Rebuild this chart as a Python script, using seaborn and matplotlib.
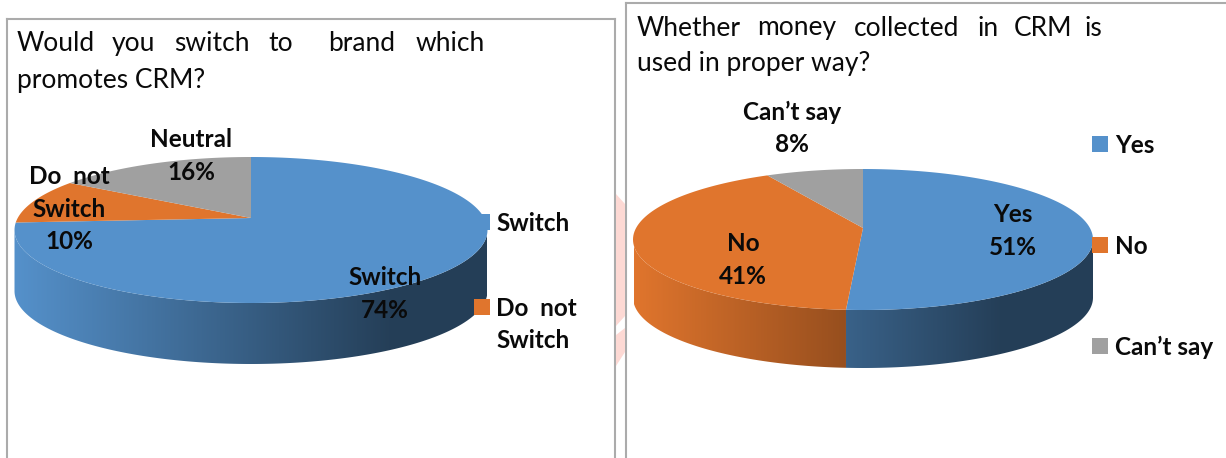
import numpy as np
import matplotlib
matplotlib.use("Agg")
import matplotlib.pyplot as plt
from matplotlib.patches import Polygon
from matplotlib.path import Path
from matplotlib.transforms import Transform, ScaledTranslation
import seaborn as sns

W, H = 1226, 458

left_labels = ["Switch", "Do  not\nSwitch", "Neutral"]
left_values = [74, 10, 16]
left_legend = ["Switch", "Do  not\nSwitch"]

right_labels = ["Yes", "No", "Can\u2019t say"]
right_values = [51, 41, 8]

left_title_words = ["Would", "you", "switch", "to", "brand", "which"]
right_title_words = ["Whether", "money", "collected", "in", "CRM", "is"]

palette = sns.color_palette(["#5591CB", "#E0752D", "#A0A0A0"])

sns.set_theme(style="white")
plt.rcParams["font.family"] = ["Lato", "DejaVu Sans"]
TITLE_SIZE = 19
LABEL_SIZE = 17.5
LINE_GAP = 1.48
FRAME = "#ABABAB"
INK = "#0A0A0A"


class TiltedDisk(Transform):
    """Perspective view of the unit disk, expressed in canvas pixels."""
    input_dims = output_dims = 2
    has_inverse = False
    is_separable = False

    def __init__(self, cx, cy, half_width, back, front):
        super().__init__()
        self.cx, self.cy = cx, cy
        self.k = (front - back) / (front + back)
        self.b = back * (1 + self.k)
        self.a = half_width * np.sqrt(1 - self.k ** 2)

    def transform_non_affine(self, xy):
        xy = np.asarray(xy, float)
        s = 1 + self.k * xy[:, 1]
        return np.column_stack((self.cx + self.a * xy[:, 0] / s,
                                self.cy - self.b * xy[:, 1] / s))

    def transform_path_non_affine(self, path):
        # Flatten the wedge's curves first so that the rim stays smooth.
        points = []
        for curve, code in path.iter_bezier():
            if code == Path.MOVETO or code == Path.CLOSEPOLY:
                points.append(curve.control_points[-1:])
            else:
                points.append(curve(np.linspace(0, 1, 24)[1:]))
        return Path(self.transform_non_affine(np.vstack(points)))


def draw_pie(ax, values, geometry, depth, x_span):
    disk = TiltedDisk(*geometry)
    wedges, _ = ax.pie(values, startangle=90, counterclock=False,
                       colors=palette, radius=1,
                       wedgeprops=dict(linewidth=0, zorder=3))
    for wedge in wedges:
        wedge.set_transform(disk + ax.transData)

    # Side wall of the disk: each slice's front rim, shaded left to right.
    edges = np.cumsum([0] + list(values)) / sum(values)
    x0, x1 = x_span
    ramp = np.clip(np.linspace(0, 1, 400) / 0.80, 0, 1)
    shade = 1 - 0.57 * ramp
    for i, colour in enumerate(palette):
        t = 90 - 360 * np.linspace(edges[i], edges[i + 1], 300)
        t = t[np.sin(np.radians(t)) <= -disk.k]
        if t.size < 2:
            continue
        rim = disk.transform_non_affine(np.column_stack((np.cos(np.radians(t)), np.sin(np.radians(t)))))
        lower = rim + [0, depth]
        outline = Polygon(np.vstack((rim, lower[::-1])), closed=True,
                          transform=ax.transData, facecolor="none", edgecolor="none")
        ax.add_patch(outline)
        image = np.ones((1, 400, 3)) * np.array(colour)
        image = image * shade[None, :, None]
        art = ax.imshow(image, extent=(x0, x1, H, 0), aspect="auto", zorder=2,
                        interpolation="bilinear")
        art.set_clip_path(outline)


def dress_axes(ax, xlim, ylim, spines):
    ax.set_aspect("auto")
    ax.set_xlim(*xlim)
    ax.set_ylim(*ylim)
    ax.set_xticks([])
    ax.set_yticks([])
    ax.set_frame_on(True)
    for side, spine in ax.spines.items():
        spine.set_visible(side in spines)
        spine.set_color(FRAME)
        spine.set_linewidth(1.5)


def slice_labels(ax, spots, names, values):
    for (x, y), name, value in zip(spots, names, values):
        ax.text(x, y, f"{name}\n{value}%", ha="center", va="center", fontsize=LABEL_SIZE,
                fontweight="bold", linespacing=LINE_GAP, color=INK, zorder=5)


def legend_keys(ax, names, key_x, text_x, key_ys):
    lift = ScaledTranslation(0, 10 / 100, ax.figure.dpi_scale_trans)
    for colour, name, y in zip(palette, names, key_ys):
        ax.scatter([key_x], [y], marker="s", s=117, color=colour, linewidths=0, zorder=4)
        ax.text(text_x, y, name, va="top", fontsize=LABEL_SIZE, fontweight="bold",
                linespacing=LINE_GAP, color=INK, zorder=5,
                transform=ax.transData + lift)


def panel(fig, x0, x1, y0):
    return fig.add_axes([x0 / W, 0, (x1 - x0) / W, (H - y0) / H])


fig = plt.figure(figsize=(W / 100, H / 100), dpi=100, facecolor="white")

# Faint watermark showing through between the two frames.
for band in ([(616, 194), (625, 204), (625, 316), (616, 326)],
             [(616, 335), (625, 328), (625, 352), (616, 366)]):
    fig.add_artist(Polygon([(x / W, 1 - y / H) for x, y in band], closed=True,
                           transform=fig.transFigure, facecolor="#FDD9D4", edgecolor="none"))

# Left chart
ax1 = panel(fig, 7, 615, 19)
draw_pie(ax1, left_values, (251, 218, 236.5, 61, 85), 61, (14, 487))
dress_axes(ax1, (7, 615), (H, 19), ("left", "top", "right"))
for x, word in zip([17, 112, 174, 268, 328, 416], left_title_words):
    ax1.text(x, 43, word, fontsize=TITLE_SIZE, va="center", color=INK)
ax1.text(17, 80, "promotes CRM?", fontsize=TITLE_SIZE, va="center", color=INK)
slice_labels(ax1, [(385, 294), (69, 209), (191, 156)], left_labels, left_values)
legend_keys(ax1, left_legend, 482, 496, [222, 307])

# Right chart
ax2 = panel(fig, 626, 1226, 3)
draw_pie(ax2, right_values, (863, 228, 230, 59, 82), 58, (634, 1094))
dress_axes(ax2, (626, 1226), (H, 3), ("left", "top"))
for x, word in zip([637, 757, 854, 978, 1014, 1085], right_title_words):
    ax2.text(x, 28, word, fontsize=TITLE_SIZE, va="center", color=INK)
ax2.text(637, 63, "used in proper way?", fontsize=TITLE_SIZE, va="center", color=INK)
slice_labels(ax2, [(1013, 231), (743, 260), (792, 128)], right_labels, right_values)
legend_keys(ax2, right_labels, 1100, 1115, [144, 245, 346])

fig.savefig("out.png", dpi=100)
